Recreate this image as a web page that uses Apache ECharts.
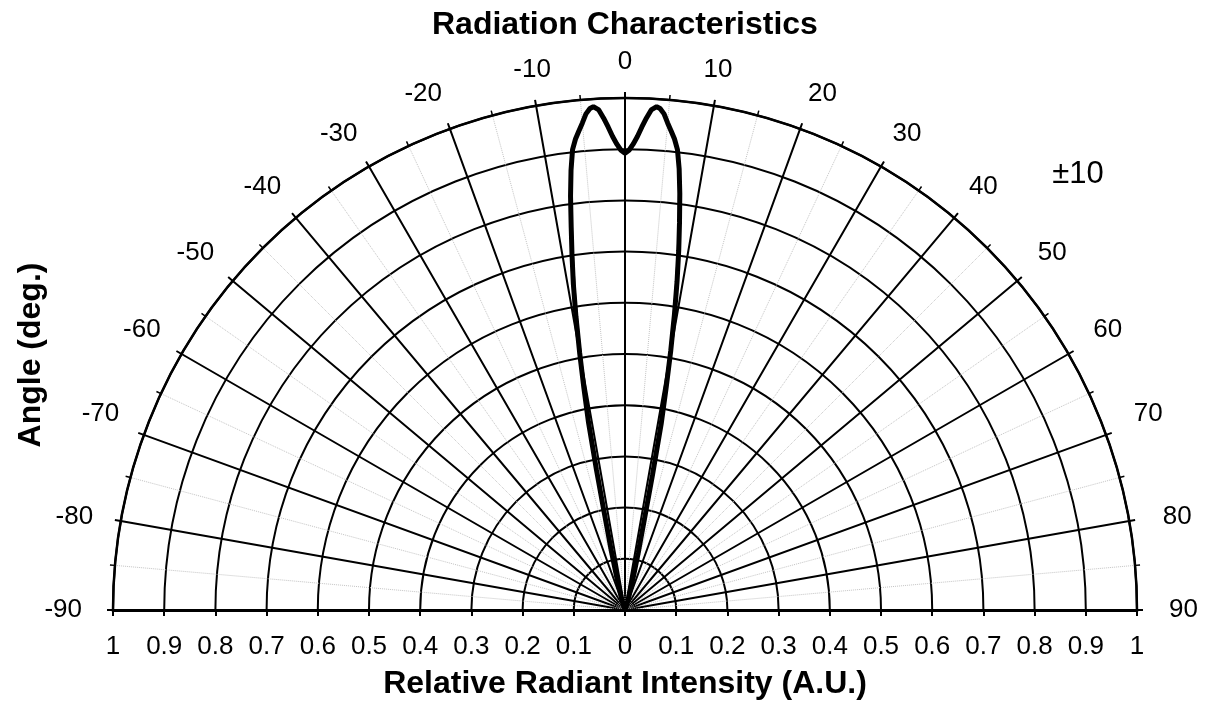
<!DOCTYPE html>
<html>
<head>
<meta charset="utf-8">
<script src="https://cdn.jsdelivr.net/npm/echarts@6/dist/echarts.min.js"></script>
<style>html,body{margin:0;padding:0;background:#fff}#c{width:1211px;height:706px}</style>
</head>
<body>
<div id="c"></div>
<script>
// Angles (deg) and relative intensity
const angles = [-90, -30, -20, -17, -15, -14, -13, -12, -11.5, -11, -10.5, -10, -9.5, -9, -8.5, -8, -7.5, -7, -6.5, -6, -5.5, -5, -4.5, -4, -3.6, -3, -2.5, -2, -1.5, -1, -0.5, 0,
  0.5, 1, 1.5, 2, 2.5, 3, 3.6, 4, 4.5, 5, 5.5, 6, 6.5, 7, 7.5, 8, 8.5, 9, 9.5, 10, 10.5, 11, 11.5, 12, 13, 14, 15, 17, 20, 30, 90];
const intensityA = [0, 0, 0.008, 0.02, 0.045, 0.07, 0.12, 0.2, 0.28, 0.375, 0.44, 0.51, 0.58, 0.645, 0.70, 0.755, 0.815, 0.865, 0.905, 0.925, 0.94, 0.955, 0.972, 0.982, 0.985, 0.978, 0.962, 0.944, 0.925, 0.91, 0.898, 0.892,
  0.898, 0.91, 0.925, 0.944, 0.962, 0.978, 0.985, 0.982, 0.972, 0.955, 0.94, 0.925, 0.905, 0.868, 0.82, 0.765, 0.71, 0.65, 0.585, 0.515, 0.44, 0.37, 0.27, 0.19, 0.115, 0.07, 0.042, 0.018, 0.007, 0, 0];
const intensityB = [0, 0, 0.006, 0.016, 0.038, 0.06, 0.1, 0.17, 0.25, 0.34, 0.41, 0.48, 0.55, 0.62, 0.68, 0.74, 0.805, 0.86, 0.902, 0.924, 0.94, 0.955, 0.972, 0.982, 0.985, 0.978, 0.962, 0.944, 0.925, 0.91, 0.898, 0.892,
  0.898, 0.91, 0.925, 0.944, 0.962, 0.978, 0.985, 0.982, 0.972, 0.955, 0.94, 0.924, 0.902, 0.862, 0.81, 0.75, 0.69, 0.63, 0.56, 0.49, 0.42, 0.35, 0.26, 0.17, 0.1, 0.06, 0.036, 0.015, 0.005, 0, 0];
const halfAngleLabel = '±10';

const FONT = 'Liberation Sans, Arial, sans-serif';
const chart = echarts.init(document.getElementById('c'));
const dataA = angles.map((a, i) => [intensityA[i], a]);
const dataB = angles.map((a, i) => [intensityB[i], a]);

// extra outward spacing (style only) for angle labels near the horizontal
const labelPad = {'-90': 8, '-80': 5, '-70': 3, '-60': 1, '-50': 1, '50': 3, '60': 5, '70': 6, '80': 11, '90': 9};
const rich = {};
Object.keys(labelPad).forEach(k => {
  const p = labelPad[k];
  rich['p' + (k < 0 ? 'm' : '') + Math.abs(k)] = {
    fontSize: 26, fontFamily: FONT, color: '#000',
    padding: Number(k) < 0 ? [0, p, 0, 0] : [0, 0, 0, p]
  };
});

chart.setOption({
  backgroundColor: '#fff',
  animation: false,
  title: {
    text: 'Radiation Characteristics',
    left: 432, top: 9, padding: 0,
    textStyle: {fontFamily: FONT, fontSize: 32, fontWeight: 'bold', color: '#000'}
  },
  graphic: [{
    type: 'text', x: 1078, y: 174,
    style: {text: halfAngleLabel, font: '31px ' + FONT, fill: '#000', align: 'center', verticalAlign: 'middle'}
  }],
  polar: {center: [625, 610], radius: 512},
  angleAxis: {
    type: 'value', min: -90, max: 90, interval: 10,
    startAngle: 180, endAngle: 0, clockwise: true,
    axisLine: {lineStyle: {color: '#000', width: 2.5}},
    axisTick: {show: true, length: 6, lineStyle: {color: '#000', width: 2}},
    minorTick: {show: true, splitNumber: 2, length: 5, lineStyle: {color: '#000', width: 1.5}},
    axisLabel: {
      margin: 23, fontSize: 26, fontFamily: FONT, color: '#000', rich: rich,
      formatter: v => {
        const k = String(Math.round(v));
        if (labelPad[k] === undefined) return k;
        return '{p' + (v < 0 ? 'm' : '') + Math.abs(Math.round(v)) + '|' + k + '}';
      }
    },
    splitLine: {show: true, lineStyle: {color: '#000', width: 2}},
    minorSplitLine: {show: true, lineStyle: {color: '#c4c4c4', width: 1, type: 'dotted'}}
  },
  radiusAxis: {
    type: 'value', min: 0, max: 1, interval: 0.1,
    axisLine: {show: false}, axisTick: {show: false}, axisLabel: {show: false},
    splitLine: {show: true, lineStyle: {color: '#000', width: 2}}
  },
  grid: {left: 113, width: 1024, top: 100, height: 510, containLabel: false, outerBoundsMode: 'none'},
  xAxis: {
    type: 'value', min: -1, max: 1, interval: 0.1,
    name: 'Relative Radiant Intensity (A.U.)', nameLocation: 'middle', nameGap: 58,
    nameTextStyle: {fontFamily: FONT, fontSize: 32, fontWeight: 'bold', color: '#000'},
    axisLine: {show: true, onZero: false, lineStyle: {color: '#000', width: 3}},
    axisTick: {show: true, length: 6, lineStyle: {color: '#000', width: 2}},
    axisLabel: {margin: 24, fontSize: 26, fontFamily: FONT, color: '#000',
      formatter: v => String(Math.round(Math.abs(v) * 10) / 10)},
    splitLine: {show: false}
  },
  yAxis: {
    type: 'value', min: 0, max: 1,
    name: 'Angle (deg.)', nameLocation: 'middle', nameGap: 66, nameRotate: 90,
    nameTextStyle: {fontFamily: FONT, fontSize: 32, fontWeight: 'bold', color: '#000'},
    axisLine: {show: false}, axisTick: {show: false}, axisLabel: {show: false}, splitLine: {show: false}
  },
  series: [
    {type: 'line', coordinateSystem: 'polar', data: dataB, showSymbol: false, symbol: 'none',
      lineStyle: {color: '#000', width: 1.8}, z: 5},
    {type: 'line', coordinateSystem: 'polar', data: dataA, showSymbol: false, symbol: 'none',
      lineStyle: {color: '#000', width: 5}, z: 6}
  ]
});
</script>
</body>
</html>
